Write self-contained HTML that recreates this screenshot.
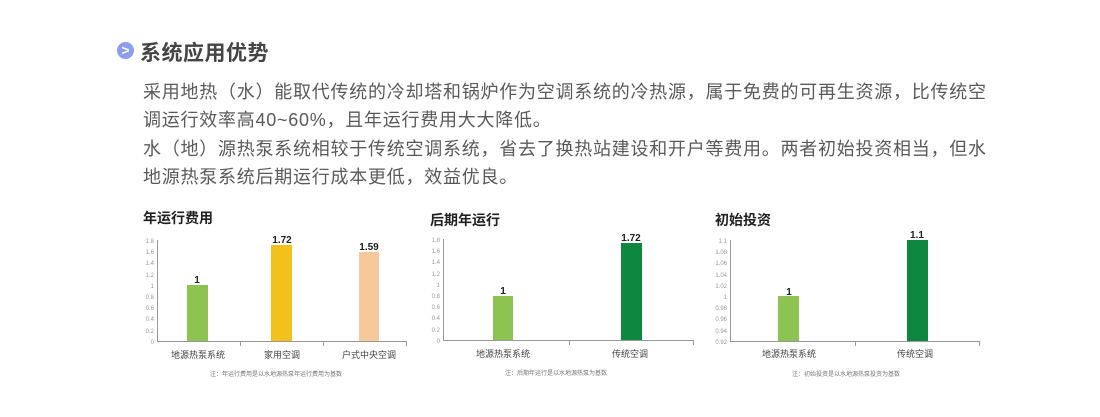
<!DOCTYPE html>
<html><head><meta charset="utf-8"><style>
body{margin:0;width:1100px;height:417px;background:#fff;overflow:hidden;font-family:"Liberation Sans","Noto Sans CJK SC",sans-serif;}
.h{position:absolute;left:140px;top:37px;font-size:21px;font-weight:bold;color:#444;letter-spacing:0.5px}
.ic{position:absolute;left:117px;top:42px;width:17px;height:17px;border-radius:50%;background:#8c9cf0;color:#fff;font-size:14px;line-height:16px;text-align:center;font-weight:bold}
.p{position:absolute;left:143px;top:78px;font-size:18px;line-height:28.3px;color:#5a5a5a;letter-spacing:0.75px;white-space:nowrap}
svg{position:absolute;left:0;top:0}
</style></head><body>
<div class="ic">&gt;</div>
<div class="h">系统应用优势</div>
<div class="p">采用地热（水）能取代传统的冷却塔和锅炉作为空调系统的冷热源，属于免费的可再生资源，比传统空<br>调运行效率高40~60%，且年运行费用大大降低。<br>水（地）源热泵系统相较于传统空调系统，省去了换热站建设和开户等费用。两者初始投资相当，但水<br>地源热泵系统后期运行成本更低，效益优良。</div>
<svg width="1100" height="417" font-family="Liberation Sans, Noto Sans CJK SC, sans-serif">
<g font-size="14" font-weight="bold" fill="#222">
<text x="143" y="223">年运行费用</text>
<text x="430" y="225">后期年运行</text>
<text x="715" y="225">初始投资</text>
</g>
<g stroke="#999" stroke-width="1" fill="none">
<path d="M157.5 240V341.5H406.5M240.5 341V346M323.5 341V346M406.5 341V346"/>
<path d="M443.5 239V340.5H693.5M569.5 340V345M693.5 340V345"/>
<path d="M730.5 240V341.5H979.5M855.5 341V346M979.5 341V346"/>
</g>
<g font-size="6" fill="#999" text-anchor="end">
<text x="154" y="243">1.8</text><text x="154" y="254">1.6</text><text x="154" y="265">1.4</text><text x="154" y="277">1.2</text><text x="154" y="288">1</text><text x="154" y="299">0.8</text><text x="154" y="310">0.6</text><text x="154" y="321">0.4</text><text x="154" y="333">0.2</text><text x="154" y="344">0</text>
<text x="440" y="242">1.8</text><text x="440" y="253">1.6</text><text x="440" y="264">1.4</text><text x="440" y="276">1.2</text><text x="440" y="287">1</text><text x="440" y="298">0.8</text><text x="440" y="309">0.6</text><text x="440" y="320">0.4</text><text x="440" y="332">0.2</text><text x="440" y="343">0</text>
<text x="727" y="243">1.1</text><text x="727" y="254">1.08</text><text x="727" y="265">1.06</text><text x="727" y="277">1.04</text><text x="727" y="288">1.02</text><text x="727" y="299">1</text><text x="727" y="310">0.98</text><text x="727" y="321">0.96</text><text x="727" y="333">0.94</text><text x="727" y="344">0.92</text>
</g>
<rect x="187" y="285" width="21" height="56" fill="#8dc451"/>
<rect x="271" y="245" width="21" height="96" fill="#f3c11c"/>
<rect x="359" y="252" width="20" height="89" fill="#f6c89a"/>
<rect x="493" y="296" width="20" height="44" fill="#8dc451"/>
<rect x="621" y="243" width="21" height="97" fill="#0e8740"/>
<rect x="778" y="296" width="21" height="45" fill="#8dc451"/>
<rect x="907" y="240" width="21" height="101" fill="#0e8740"/>
<g font-size="10" font-weight="bold" fill="#222" text-anchor="middle">
<text x="197" y="283">1</text><text x="282" y="243">1.72</text><text x="369" y="250">1.59</text>
<text x="503" y="294">1</text><text x="631" y="241">1.72</text>
<text x="789" y="295">1</text><text x="917" y="238">1.1</text>
</g>
<g font-size="9" fill="#444" text-anchor="middle">
<text x="198" y="358">地源热泵系统</text><text x="282" y="358">家用空调</text><text x="369" y="358">户式中央空调</text>
<text x="503" y="357">地源热泵系统</text><text x="630" y="357">传统空调</text>
<text x="789" y="357">地源热泵系统</text><text x="915" y="357">传统空调</text>
</g>
<g font-size="6" fill="#777" text-anchor="middle">
<text x="276" y="376">注：年运行费用是以水地源热泵年运行费用为基数</text>
<text x="556" y="375">注：后期年运行是以水地源热泵为基数</text>
<text x="846" y="376">注：初始投资是以水地源热泵投资为基数</text>
</g>
</svg>
</body></html>
